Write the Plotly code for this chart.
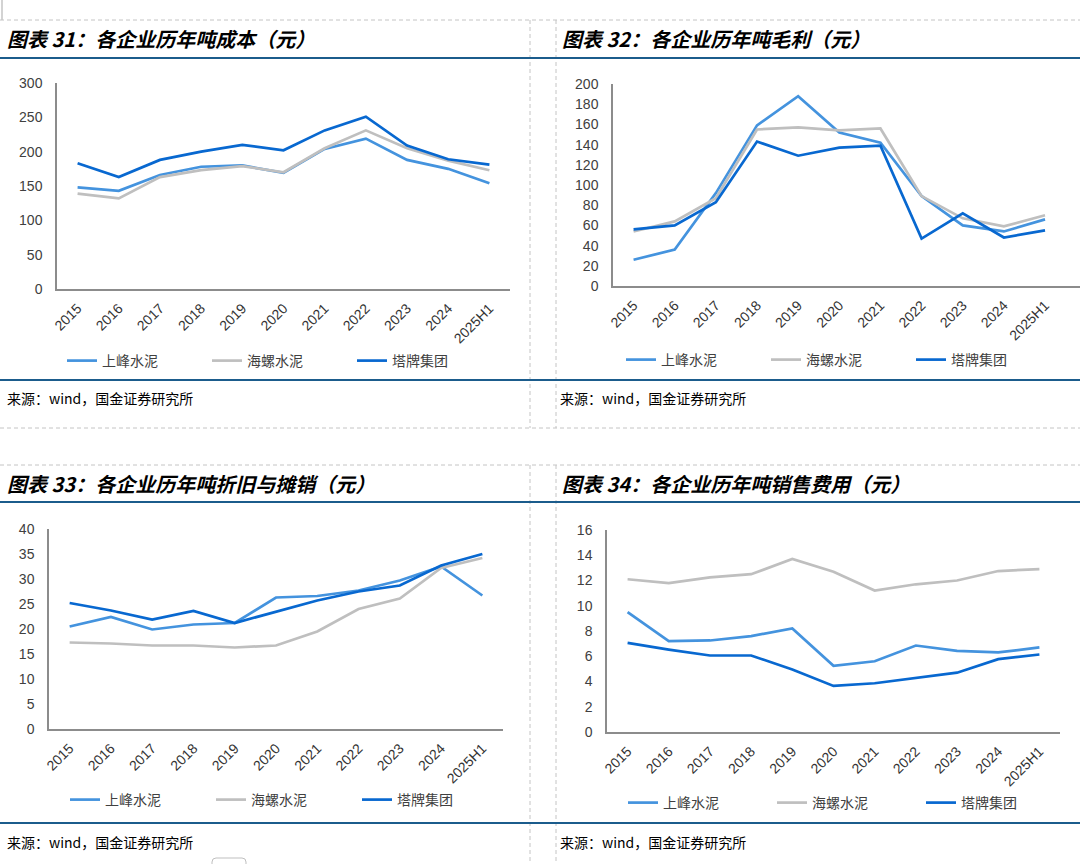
import plotly.graph_objects as go

W, H = 1080, 864

categories = ['2015', '2016', '2017', '2018', '2019', '2020', '2021', '2022', '2023', '2024', '2025H1']
series_names = ['上峰水泥', '海螺水泥', '塔牌集团']

# 图表31 吨成本
cost_shangfeng = [148, 143, 166, 178, 180, 169, 204, 219, 188, 175, 154]
cost_hailuo = [139, 132, 163, 173, 179, 170, 205, 231, 205, 187, 173]
cost_tapai = [183, 163, 188, 200, 210, 202, 231, 251, 209, 189, 181]

# 图表32 吨毛利
profit_shangfeng = [26, 36, 92, 159, 188, 152, 142, 89, 60, 54, 66]
profit_hailuo = [54, 64, 87, 155, 157, 154, 156, 89, 67, 59, 70]
profit_tapai = [56, 60, 83, 143, 129, 137, 139, 47, 72, 48, 55]

# 图表33 吨折旧与摊销
dep_shangfeng = [20.5, 22.4, 19.9, 20.9, 21.2, 26.3, 26.6, 27.7, 29.7, 32.5, 26.7]
dep_hailuo = [17.3, 17.1, 16.7, 16.7, 16.3, 16.7, 19.5, 24.0, 26.1, 32.2, 34.2]
dep_tapai = [25.2, 23.7, 21.9, 23.6, 21.2, 23.4, 25.7, 27.5, 28.7, 32.7, 35.0]

# 图表34 吨销售费用
sell_shangfeng = [9.5, 7.2, 7.25, 7.6, 8.2, 5.24, 5.6, 6.85, 6.43, 6.3, 6.7]
sell_hailuo = [12.1, 11.8, 12.25, 12.5, 13.7, 12.7, 11.2, 11.7, 12.0, 12.75, 12.9]
sell_tapai = [7.06, 6.53, 6.06, 6.06, 4.95, 3.65, 3.86, 4.3, 4.7, 5.77, 6.14]

titles = ['图表 31：各企业历年吨成本（元）', '图表 32：各企业历年吨毛利（元）',
          '图表 33：各企业历年吨折旧与摊销（元）', '图表 34：各企业历年吨销售费用（元）']
source_text = '来源：wind，国金证券研究所'

y_ranges = [[0, 300], [0, 200], [0, 40], [0, 16]]
y_dticks = [50, 20, 5, 2]

colors = ['#4493DE', '#BFBFBF', '#0868D0']

panels = [
    [cost_shangfeng, cost_hailuo, cost_tapai],
    [profit_shangfeng, profit_hailuo, profit_tapai],
    [dep_shangfeng, dep_hailuo, dep_tapai],
    [sell_shangfeng, sell_hailuo, sell_tapai],
]

def px(x):
    return x / W

def py(y):
    return 1 - y / H

# plot-area boxes in pixels: (left, right, top, bottom), x range end
boxes = [
    (57, 510, 83, 289, 10.5),
    (613, 1080, 84, 286, 10.85),
    (49, 503, 529, 729, 10.5),
    (607, 1060, 530, 732, 10.5),
]

legend_pos = [(67, 361, 146), (626, 360, 146), (70, 800, 147), (628, 803, 150)]

fig = go.Figure()

for i, data in enumerate(panels):
    n = i + 1
    suffix = '' if n == 1 else str(n)
    for j, vals in enumerate(data):
        fig.add_trace(go.Scatter(
            x=categories, y=vals, mode='lines', name=series_names[j],
            line=dict(color=colors[j], width=2.7),
            xaxis='x' + suffix, yaxis='y' + suffix,
            legend='legend' + suffix,
        ))

layout = dict(
    width=W, height=H, margin=dict(l=0, r=0, t=0, b=0),
    paper_bgcolor='white', plot_bgcolor='white',
    font=dict(family='Liberation Sans, Arial, sans-serif', color='#404040'),
)

for i, (l, r, t, b, xend) in enumerate(boxes):
    n = i + 1
    suffix = '' if n == 1 else str(n)
    layout['xaxis' + suffix] = dict(
        domain=[px(l), px(r)], anchor='y' + suffix, type='category',
        range=[-0.5, xend], showline=True, linecolor='#8C8C8C', linewidth=1.5,
        showgrid=False, zeroline=False, ticks='', tickangle=-45,
        ticklabelstandoff=4,
        tickfont=dict(size=14, color='#333333', family='Liberation Sans, Arial'),
        automargin=False, fixedrange=True,
    )
    layout['yaxis' + suffix] = dict(
        domain=[py(b), py(t)], anchor='x' + suffix, range=y_ranges[i],
        dtick=y_dticks[i], tick0=0, showline=True, linecolor='#8C8C8C',
        linewidth=1.5, showgrid=False, zeroline=False, ticks='',
        ticklabelstandoff=10,
        tickfont=dict(size=14, color='#404040', family='Liberation Sans, Arial'),
        automargin=False, fixedrange=True,
    )
    lx, ly, ew = legend_pos[i]
    layout['legend' + suffix] = dict(
        orientation='h', x=px(lx - 5), y=py(ly), xanchor='left', yanchor='middle',
        entrywidth=ew - 46, entrywidthmode='pixels',
        font=dict(size=14, color='#404040', family='Noto Sans CJK SC'),
        bgcolor='rgba(0,0,0,0)', borderwidth=0, itemwidth=30,
        tracegroupgap=0,
    )

annotations = []
title_pos = [(5, 38), (560, 38), (5, 483), (560, 483)]
for (x, y), t in zip(title_pos, titles):
    annotations.append(dict(
        text='<b><i>' + t + '</i></b>', x=px(x), y=py(y), xref='paper', yref='paper',
        xanchor='left', yanchor='middle', showarrow=False,
        font=dict(size=20, color='#000000', family='Noto Sans CJK SC'),
    ))
source_pos = [(5, 398), (558, 398), (5, 842), (558, 842)]
for x, y in source_pos:
    annotations.append(dict(
        text=source_text, x=px(x), y=py(y), xref='paper', yref='paper',
        xanchor='left', yanchor='middle', showarrow=False,
        font=dict(size=14, color='#000000', family='Noto Sans CJK SC'),
    ))
layout['annotations'] = annotations

shapes = []
dash_style = dict(color='#C4C4C4', width=1, dash='4px,3px')
blue_style = dict(color='#1B5C8C', width=2)

def hline(y, x0, x1, style):
    shapes.append(dict(type='line', xref='paper', yref='paper',
                       x0=px(x0), x1=px(x1), y0=py(y), y1=py(y), line=style))

def vline(x, y0, y1, style):
    shapes.append(dict(type='line', xref='paper', yref='paper',
                       x0=px(x), x1=px(x), y0=py(y0), y1=py(y1), line=style))

for y in (20, 428, 465):
    hline(y, 0, W, dash_style)
for x in (530, 556):
    vline(x, 20, 428, dash_style)
    vline(x, 465, H, dash_style)
vline(2, 0, 20, dict(color='#C4C4C4', width=1.5))
for y in (58, 380, 502, 823):
    hline(y, 0, W, blue_style)

# small rounded box at bottom edge
path = 'M {a},{b} L {a},{c} Q {a},{d} {e},{d} L {f},{d} Q {g},{d} {g},{c} L {g},{b}'.format(
    a=px(212), b=py(866), c=py(862), d=py(858), e=px(216), f=px(242), g=px(246))
shapes.append(dict(type='path', xref='paper', yref='paper', path=path,
                   line=dict(color='#BFBFBF', width=1)))
layout['shapes'] = shapes

fig.update_layout(**layout)
fig.write_html('out.html', config={'displayModeBar': False})

with open('out.html', 'r', encoding='utf-8') as f:
    html = f.read()
html = html.replace('<head>', '<head><style>html,body{margin:0;padding:0;overflow:hidden;}</style>', 1)
with open('out.html', 'w', encoding='utf-8') as f:
    f.write(html)
